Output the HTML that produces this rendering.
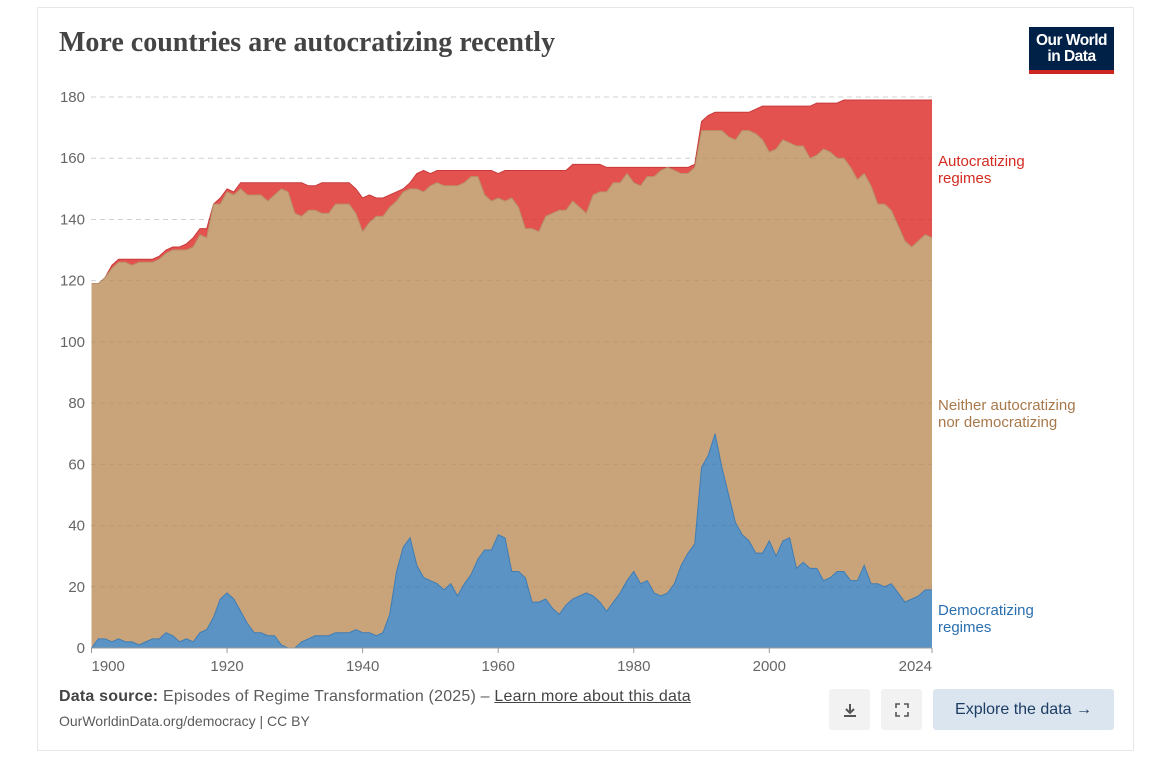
<!DOCTYPE html>
<html><head><meta charset="utf-8">
<style>
body{margin:0;background:#fff;width:1154px;height:768px;overflow:hidden;font-family:"Liberation Sans",sans-serif}
.card{position:absolute;left:37px;top:7px;width:1097px;height:744px;border:1px solid #e7e7e7;box-sizing:border-box}
.title{position:absolute;left:59px;top:27px;font-family:"Liberation Serif",serif;font-size:28px;font-weight:bold;color:#444;letter-spacing:0px}
.logo{position:absolute;left:1029px;top:27px;width:85px;height:47px;background:#002147;color:#fff;font-size:15.5px;font-weight:bold;line-height:16px;text-align:center;box-sizing:border-box;padding-top:6px;border-bottom:4px solid #ce261e;letter-spacing:-0.5px}
.src{position:absolute;left:59px;top:688px;font-size:16px;color:#5b5b5b;letter-spacing:0.2px}
.src b{color:#444}
.src u{color:#444}
.url{position:absolute;left:59px;top:713px;font-size:14px;color:#5b5b5b}
.btn{position:absolute;top:689px;height:41px;background:#f2f2f2;border-radius:3px;box-sizing:border-box;display:flex;align-items:center;justify-content:center;color:#555}
.explore{left:933px;width:181px;background:#dbe5f0;color:#1d3d63;font-size:16px}
</style></head><body>
<div class="card"></div>
<div class="title">More countries are autocratizing recently</div>
<div class="logo">Our World<br>in Data</div>
<svg id="chart" width="1154" height="768" style="position:absolute;left:0;top:0"></svg>
<div class="src"><b>Data source:</b> Episodes of Regime Transformation (2025) – <u>Learn more about this data</u></div>
<div class="url">OurWorldinData.org/democracy | CC BY</div>
<div class="btn" style="left:829px;width:41px">
<svg width="16" height="16"><path d="M8 2v8M4 7l4 4 4-4M2 14h12" stroke="#555" stroke-width="2" fill="none"/></svg></div>
<div class="btn" style="left:881px;width:41px">
<svg width="14" height="14"><path d="M1 5V1h4M9 1h4v4M13 9v4H9M5 13H1V9" stroke="#555" stroke-width="1.6" fill="none"/></svg></div>
<div class="btn explore">Explore the data&nbsp;→</div>
<script>
const years=[];for(let y=1900;y<=2024;y++)years.push(y);
const democratizing=[0,3,3,2,3,2,2,1,2,3,3,5,4,2,3,2,5,6,10,16,18,16,12,8,5,5,4,4,1,0,0,2,3,4,4,4,5,5,5,6,5,5,4,5,11,25,33,36,27,23,22,21,19,21,17,21,24,29,32,32,37,36,25,
25,23,15,15,16,13,11,14,16,17,18,17,15,12,15,18,22,25,21,22,18,17,18,21,27,31,34,59,63,70,59,50,41,37,35,31,31,35,30,35,36,26,28,26,26,22,23,25,25,22,22,27,21,21,20,21,18,15,16,17,19,19];
const neither=[119,116,118,122,123,124,123,125,124,123,124,124,126,128,127,129,130,128,135,129,131,132,138,140,143,143,142,144,149,149,142,139,140,139,138,138,140,140,140,136,131,134,137,136,133,121,116,114,123,126,129,131,132,130,134,131,130,125,116,114,110,110,122,
119,114,122,121,125,129,132,129,130,127,124,131,134,137,137,134,133,127,130,132,136,139,139,135,128,124,123,110,106,99,110,117,125,132,134,137,135,127,133,131,129,138,136,134,135,141,139,135,135,135,131,128,130,124,125,122,120,118,115,116,116,115];
const autocratizing=[0,0,0,1,1,1,2,1,1,1,1,1,1,1,2,3,2,3,0,2,1,1,2,4,4,4,6,4,2,3,10,11,8,8,10,10,7,7,7,8,11,9,6,6,4,3,1,2,5,7,4,4,5,5,5,4,2,2,8,10,8,10,9,
12,19,19,20,15,14,13,13,12,14,16,10,9,8,5,5,2,5,6,3,3,1,0,1,2,2,1,3,5,6,6,8,9,6,6,8,11,15,14,11,12,13,13,17,17,15,16,18,19,22,26,24,28,34,34,36,41,46,48,46,44,45];
const yTicks=[0,20,40,60,80,100,120,140,160,180];
const xTicks=[1900,1920,1940,1960,1980,2000,2024];
const NS="http://www.w3.org/2000/svg";
const svg=document.getElementById('chart');
const X=y=>91.5+(y-1900)*(932-91.5)/124;
const Y=v=>648-v*(648-97)/180;
function mk(t,a){const e=document.createElementNS(NS,t);for(const k in a)e.setAttribute(k,a[k]);svg.appendChild(e);return e;}
yTicks.forEach(v=>{
  if(v>0){const g=mk('line',{x1:91,x2:932,y1:Y(v),y2:Y(v),stroke:'#ddd','stroke-dasharray':'5,4'});
  
  }
  const t=mk('text',{x:85,y:Y(v)+5,'text-anchor':'end','font-size':15,fill:'#666','font-family':'Liberation Sans'});t.textContent=v;
  
  
});
const base=years.map(()=>0),l1=[],l2=[],l3=[];
years.forEach((y,i)=>{l1.push(democratizing[i]);l2.push(democratizing[i]+neither[i]);l3.push(democratizing[i]+neither[i]+autocratizing[i]);});
function area(lo,hi,fill,stroke,name){
  let d='M'+years.map((y,i)=>X(y)+','+Y(hi[i])).join('L');
  d+='L'+years.slice().reverse().map((y,j)=>{const i=years.length-1-j;return X(y)+','+Y(lo[i]);}).join('L')+'Z';
  const p=mk('path',{d:d,fill:fill});
  
  
  const ln=mk('path',{d:'M'+years.map((y,i)=>X(y)+','+Y(hi[i])).join('L'),fill:'none',stroke:stroke,'stroke-width':1});
  
  
}
area(l2,l3,'#e3524f','#c9393a','area-autocratizing');
area(l1,l2,'#c9a47a','#b8916a','area-neither');
area(base,l1,'#5b93c4','#3f7db5','area-democratizing');
yTicks.forEach(v=>{
  if(v>0){const g=mk('line',{x1:91,x2:932,y1:Y(v),y2:Y(v),stroke:'#000','stroke-opacity':0.06,'stroke-dasharray':'5,4'});
  
  }
});
mk('line',{x1:91,x2:932,y1:648,y2:648,stroke:'#999'});
xTicks.forEach((y,i)=>{
  mk('line',{x1:X(y),x2:X(y),y1:648,y2:653,stroke:'#999'});
  const t=mk('text',{x:X(y),y:671,'text-anchor':i==0?'start':(i==xTicks.length-1?'end':'middle'),'font-size':15,fill:'#666','font-family':'Liberation Sans'});t.textContent=y;
  
  
});
const leg=[["Autocratizing","regimes",166,'#d42b21','legend-autocratizing'],["Neither autocratizing","nor democratizing",410,'#a8784a','legend-neither'],["Democratizing","regimes",615,'#2a6fb0','legend-democratizing']];
leg.forEach(l=>{
  const t=mk('text',{x:938,y:l[2],'font-size':15,fill:l[3],'font-family':'Liberation Sans'});
  
  
  const a=document.createElementNS(NS,'tspan');a.setAttribute('x',938);a.textContent=l[0];t.appendChild(a);
  const b=document.createElementNS(NS,'tspan');b.setAttribute('x',938);b.setAttribute('dy',17);b.textContent=l[1];t.appendChild(b);
});
</script>
</body></html>
